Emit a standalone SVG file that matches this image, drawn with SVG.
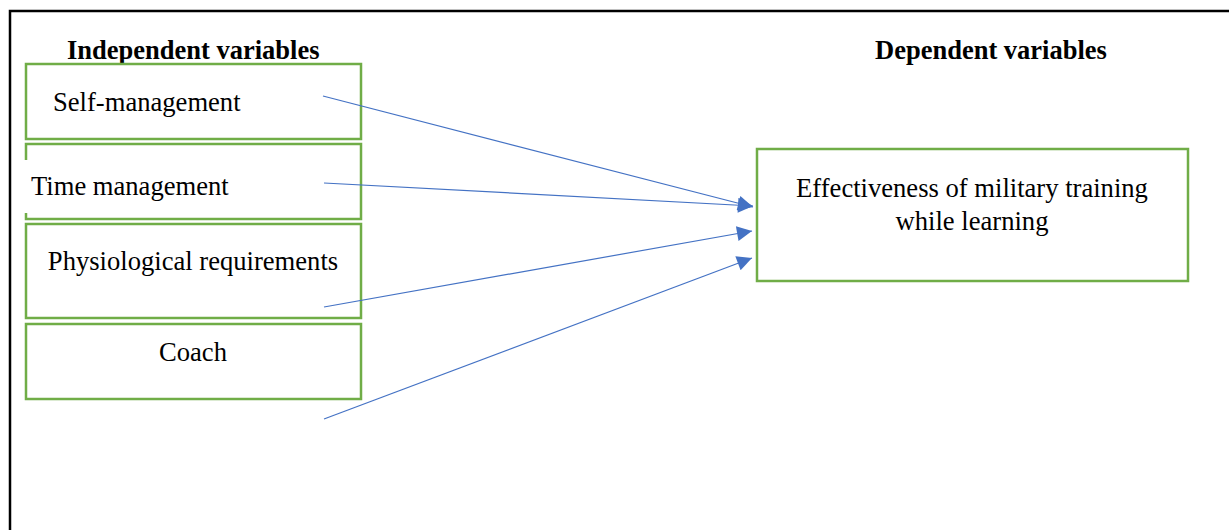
<svg xmlns="http://www.w3.org/2000/svg" width="1229" height="530" viewBox="0 0 1229 530">
<defs>
<style>
.box{fill:#fff;stroke:#70AD47;stroke-width:2.5}
.t{font-family:"Liberation Serif","Times New Roman",serif;font-size:26.6px;fill:#000}
.h{font-family:"Liberation Serif","Times New Roman",serif;font-size:26.5px;font-weight:bold;fill:#000}
.c{stroke:#4472C4;stroke-width:1.2;fill:none;marker-end:url(#ah)}
</style>
<marker id="ah" viewBox="0 0 10 10" refX="10" refY="5" markerWidth="20" markerHeight="15" markerUnits="userSpaceOnUse" orient="auto">
<path d="M0,0 L10,5 L0,10 Z" fill="#4472C4"/>
</marker>
</defs>
<rect width="1229" height="530" fill="#fff"/>
<path d="M10,530 V11 H1229" fill="none" stroke="#000" stroke-width="2.5"/>
<text class="h" x="67" y="59">Independent variables</text>
<text class="h" x="875" y="59">Dependent variables</text>
<g id="self-management">
<rect class="box" x="26" y="64" width="335" height="75"/>
<text class="t" x="53" y="111">Self-management</text>
</g>
<g id="time-management">
<rect class="box" x="26" y="144" width="335" height="75"/>
<rect x="23" y="160" width="7" height="53" fill="#fff"/>
<text class="t" x="31" y="195">Time management</text>
</g>
<g id="physiological-requirements">
<rect class="box" x="26" y="224" width="335" height="94"/>
<text class="t" x="193" y="270" text-anchor="middle">Physiological requirements</text>
</g>
<g id="coach">
<rect class="box" x="26" y="324" width="335" height="75"/>
<text class="t" x="193" y="361" text-anchor="middle">Coach</text>
</g>
<g id="effectiveness">
<rect class="box" x="757" y="149" width="431" height="132"/>
<text class="t" x="972" y="197" text-anchor="middle">Effectiveness of military training</text>
<text class="t" x="972" y="230" text-anchor="middle">while learning</text>
</g>
<g id="connectors">
<line class="c" x1="323" y1="96" x2="753" y2="207"/>
<line class="c" x1="324" y1="183" x2="753" y2="206"/>
<line class="c" x1="324" y1="307" x2="752" y2="231"/>
<line class="c" x1="324" y1="419" x2="752" y2="258"/>
</g>
</svg>
